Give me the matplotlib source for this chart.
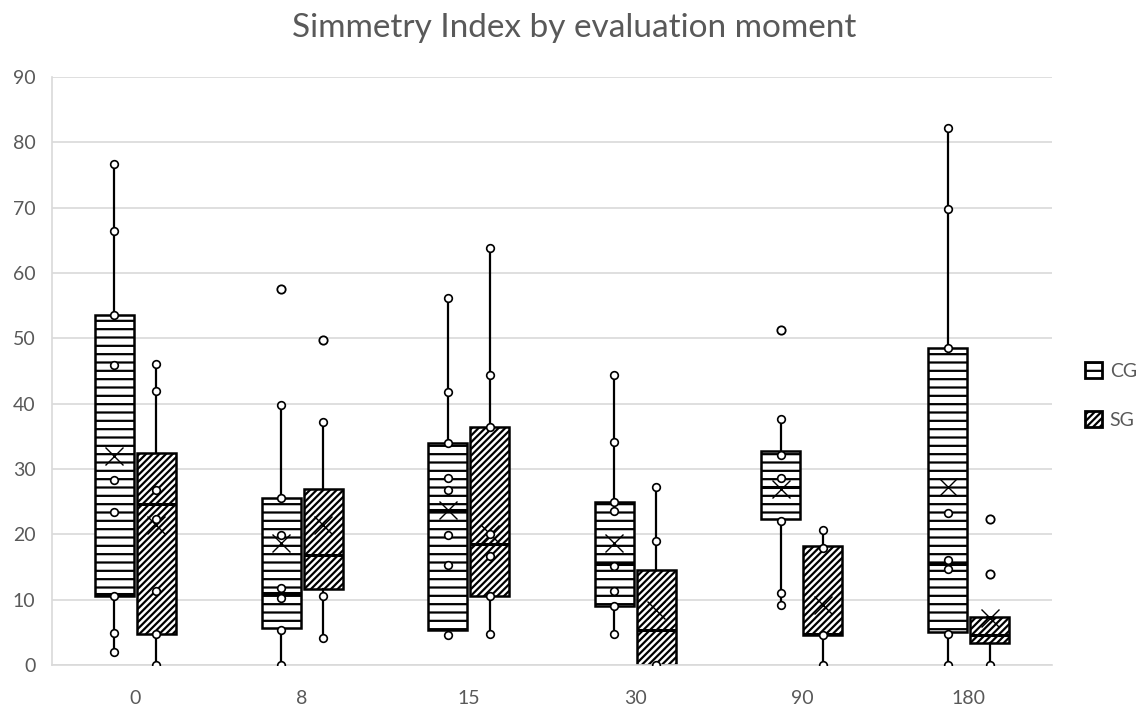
import numpy as np
import matplotlib.pyplot as plt
from matplotlib.patches import Patch

plt.rcParams['font.family'] = ['Lato', 'DejaVu Sans']
plt.rcParams['hatch.linewidth'] = 1.6

# Momentos de avaliacao
moments = ['0', '8', '15', '30', '90', '180']

# Resumo CG (controle)
cg_q1 = [10.6, 5.6, 5.4, 9.0, 22.4, 5.0]
cg_med = [10.9, 11.1, 23.8, 15.5, 27.2, 15.5]
cg_q3 = [53.6, 25.6, 34.0, 25.0, 32.7, 48.5]
cg_lo = [2.0, 0.0, 4.6, 4.8, 9.2, 0.0]
cg_hi = [76.7, 39.8, 56.1, 44.4, 37.7, 82.2]
cg_mean = [32.0, 18.7, 23.8, 18.7, 26.9, 27.2]
cg_out = [[], [57.6], [], [], [51.2], []]
cg_pts = [[76.7, 66.4, 53.6, 45.9, 28.3, 23.4, 10.6, 4.9, 2.0],
          [39.8, 25.6, 19.9, 11.8, 10.3, 5.3, 0.0],
          [56.1, 41.8, 34.0, 28.6, 26.8, 19.9, 15.3, 4.6],
          [44.4, 34.1, 25.0, 23.6, 15.1, 11.3, 9.0, 4.8],
          [37.7, 32.2, 28.7, 22.1, 11.0, 9.2],
          [82.2, 69.8, 48.5, 23.3, 16.1, 14.7, 4.7, 0.0]]

# Resumo SG
sg_q1 = [4.7, 11.7, 10.6, 0.0, 4.6, 3.3]
sg_med = [24.6, 16.8, 18.5, 5.4, 4.7, 4.6]
sg_q3 = [32.5, 26.9, 36.4, 14.6, 18.2, 7.4]
sg_lo = [0.0, 4.1, 4.7, 0.0, 0.0, 0.0]
sg_hi = [46.0, 37.2, 63.8, 27.2, 20.7, 7.4]
sg_mean = [21.5, 21.5, 20.0, 8.5, 9.2, 7.2]
sg_out = [[], [49.7], [], [], [], [22.4, 13.9]]
sg_pts = [[46.0, 41.9, 26.8, 22.3, 11.4, 4.7, 0.0],
          [37.2, 10.6, 4.1],
          [63.8, 44.4, 36.4, 20.0, 16.7, 10.6, 4.7],
          [27.2, 19.0, 0.0],
          [20.7, 17.9, 4.6, 0.0],
          [0.0]]

grey = '#595959'
x = np.arange(len(moments))
w = 0.234
off = 0.126

fig = plt.figure(figsize=(11.44, 7.06), dpi=100)
ax = fig.add_axes([0.0455, 0.058, 0.874, 0.833])


def make_stats(q1, med, q3, lo, hi, mean, out):
    return [dict(q1=q1[i], med=med[i], q3=q3[i], whislo=lo[i], whishi=hi[i],
                 mean=mean[i], fliers=out[i]) for i in range(len(q1))]


groups = [
    (make_stats(cg_q1, cg_med, cg_q3, cg_lo, cg_hi, cg_mean, cg_out), cg_pts, x - off, '--'),
    (make_stats(sg_q1, sg_med, sg_q3, sg_lo, sg_hi, sg_mean, sg_out), sg_pts, x + off, '/////'),
]

for stats, pts, pos, hatch in groups:
    bp = ax.bxp(stats, positions=pos, widths=w, patch_artist=True,
                showmeans=True, showfliers=True, showcaps=True, capwidths=0.03,
                boxprops=dict(facecolor='white', edgecolor='black', linewidth=1.8, hatch=hatch),
                medianprops=dict(color='black', linewidth=2.2),
                whiskerprops=dict(color='black', linewidth=1.6),
                capprops=dict(color='black', linewidth=2),
                meanprops=dict(marker='x', markeredgecolor='black', markersize=13,
                               markeredgewidth=1.0),
                flierprops=dict(marker='o', markerfacecolor='white', markeredgecolor='black',
                                markersize=6, markeredgewidth=1.3))
    for p, vals in zip(pos, pts):
        ax.plot([p] * len(vals), vals, linestyle='none', marker='o', markersize=5.5,
                markerfacecolor='white', markeredgecolor='black', markeredgewidth=1.2,
                zorder=4)

ax.set_xlim(-0.5, 5.5)
ax.set_ylim(0, 90)
ax.set_yticks(np.arange(0, 91, 10))
ax.set_xticks(x)
ax.set_xticklabels(moments)
ax.grid(axis='y', color='#d9d9d9', linewidth=1.2)
ax.set_axisbelow(True)
for s in ['top', 'right']:
    ax.spines[s].set_visible(False)
for s in ['left', 'bottom']:
    ax.spines[s].set_color('#d9d9d9')
    ax.spines[s].set_linewidth(1.2)
ax.tick_params(length=0, colors=grey, labelsize=14)
ax.tick_params(axis='x', pad=18)
ax.tick_params(axis='y', pad=12)

fig.text(0.502, 0.96, 'Simmetry Index by evaluation moment', ha='center', va='center',
         fontsize=24, color=grey)

handles = [Patch(facecolor='white', edgecolor='black', linewidth=2, hatch='--', label='CG'),
           Patch(facecolor='white', edgecolor='black', linewidth=2, hatch='/////', label='SG')]
leg = fig.legend(handles=handles, loc='center left', bbox_to_anchor=(0.948, 0.44),
                 frameon=False, fontsize=14, handlelength=0.9, handleheight=0.9,
                 handletextpad=0.4, labelspacing=1.6, borderpad=0, borderaxespad=0)
for t in leg.get_texts():
    t.set_color(grey)

fig.savefig('out.png', dpi=100)
